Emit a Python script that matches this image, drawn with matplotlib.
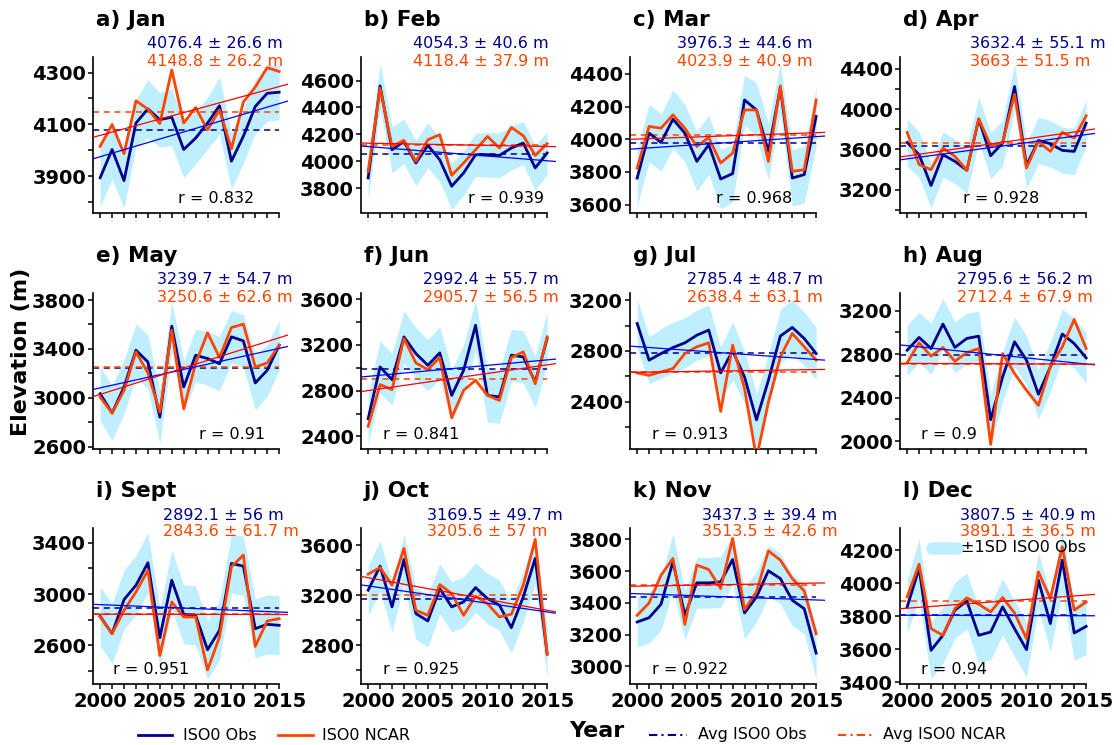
import matplotlib.pyplot as plt
import numpy as np
from matplotlib.lines import Line2D

plt.rcParams['font.family'] = 'DejaVu Sans'

years = [2000, 2001, 2002, 2003, 2004, 2005, 2006, 2007,
         2008, 2009, 2010, 2011, 2012, 2013, 2014, 2015]

# ISO0 elevation (m), observed / NCAR / 1SD of obs, one list per month
jan_obs = [3894, 4003, 3883, 4105, 4160, 4118, 4128, 4003, 4047, 4105, 4172, 3958, 4054, 4169, 4220, 4224]
jan_ncar = [4015, 4099, 3987, 4191, 4159, 4103, 4310, 4105, 4165, 4079, 4156, 4006, 4186, 4244, 4319, 4304]
jan_sd = [110, 115, 105, 92, 112, 105, 110, 108, 100, 100, 110, 109, 102, 104, 108, 106]

feb_obs = [3877, 4560, 4086, 4148, 3988, 4119, 4012, 3815, 3914, 4049, 4049, 4044, 4099, 4136, 3951, 4062]
feb_ncar = [3926, 4543, 4111, 4156, 4000, 4160, 4198, 3896, 3988, 4086, 4185, 4099, 4252, 4190, 4044, 4131]
feb_sd = [160, 168, 172, 165, 170, 165, 162, 172, 165, 160, 165, 168, 162, 160, 165, 160]

mar_obs = [3763, 4038, 3981, 4123, 4038, 3865, 3967, 3757, 3790, 4241, 4180, 3926, 4317, 3763, 3784, 4140]
mar_ncar = [3824, 4079, 4068, 4150, 4068, 3956, 4011, 3855, 3916, 4180, 4180, 3865, 4327, 3804, 3814, 4241]
mar_sd = [173, 178, 175, 179, 175, 183, 180, 183, 175, 153, 165, 175, 148, 172, 175, 179]

apr_obs = [3669, 3547, 3240, 3547, 3481, 3392, 3901, 3537, 3663, 4225, 3441, 3689, 3656, 3590, 3580, 3861]
apr_ncar = [3769, 3448, 3398, 3613, 3531, 3392, 3904, 3636, 3669, 4149, 3415, 3679, 3580, 3769, 3712, 3934]
apr_sd = [232, 228, 222, 225, 222, 230, 225, 230, 228, 231, 228, 230, 232, 228, 232, 231]

may_obs = [3033, 2874, 3088, 3389, 3293, 2841, 3586, 3088, 3348, 3321, 3279, 3499, 3466, 3121, 3225, 3430]
may_ncar = [3005, 2874, 3060, 3375, 3203, 2882, 3553, 2910, 3279, 3532, 3329, 3575, 3603, 3252, 3285, 3430]
may_sd = [219, 225, 220, 219, 219, 219, 200, 215, 215, 220, 224, 215, 215, 220, 215, 206]

jun_obs = [2555, 3007, 2896, 3270, 3124, 3022, 3130, 2759, 2978, 3372, 2759, 2745, 3110, 3095, 2876, 3255]
jun_ncar = [2488, 2853, 2809, 3255, 3042, 2984, 3089, 2564, 2803, 2891, 2759, 2715, 3089, 3139, 2861, 3270]
jun_sd = [219, 228, 225, 228, 225, 225, 228, 225, 225, 219, 233, 230, 228, 228, 225, 234]

jul_obs = [3016, 2728, 2780, 2827, 2864, 2924, 2964, 2628, 2801, 2596, 2260, 2570, 2917, 2985, 2898, 2780]
jul_ncar = [2628, 2609, 2636, 2662, 2780, 2833, 2864, 2326, 2846, 2504, 1960, 2399, 2754, 2938, 2833, 2728]
jul_sd = [197, 184, 195, 200, 197, 197, 200, 205, 228, 205, 205, 205, 210, 215, 210, 205]

aug_obs = [2837, 2954, 2852, 3077, 2862, 2945, 2966, 2197, 2591, 2914, 2745, 2431, 2683, 2985, 2898, 2766]
aug_ncar = [2720, 2905, 2782, 2862, 2735, 2815, 2852, 1969, 2806, 2622, 2468, 2329, 2683, 2868, 3120, 2852]
aug_sd = [231, 231, 235, 237, 235, 232, 230, 230, 230, 230, 225, 225, 230, 230, 230, 230]

sep_obs = [2827, 2692, 2957, 3069, 3244, 2660, 3108, 2843, 2835, 2567, 2718, 3239, 3218, 2731, 2765, 2757]
sep_ncar = [2822, 2692, 2874, 3017, 3186, 2522, 2939, 2822, 2822, 2410, 2666, 3213, 3304, 2593, 2791, 2809]
sep_sd = [229, 235, 232, 232, 234, 230, 230, 230, 230, 227, 230, 230, 232, 230, 230, 230]

oct_obs = [3240, 3432, 3107, 3485, 3053, 2995, 3253, 3107, 3147, 3261, 3173, 3120, 2941, 3187, 3493, 2733]
oct_ncar = [3368, 3421, 3280, 3573, 3080, 3040, 3285, 3213, 3040, 3192, 3133, 3027, 3048, 3280, 3645, 2728]
oct_sd = [200, 203, 200, 200, 205, 208, 200, 200, 200, 198, 200, 202, 202, 200, 200, 200]

nov_obs = [3279, 3306, 3391, 3659, 3321, 3526, 3526, 3532, 3673, 3336, 3437, 3602, 3553, 3416, 3363, 3083]
nov_ncar = [3321, 3399, 3574, 3680, 3264, 3638, 3610, 3490, 3806, 3357, 3469, 3728, 3669, 3553, 3475, 3205]
nov_sd = [158, 160, 165, 179, 154, 160, 160, 160, 154, 163, 160, 160, 160, 160, 160, 163]

dec_obs = [3856, 4089, 3593, 3684, 3836, 3892, 3684, 3704, 3856, 3724, 3597, 4018, 3755, 4139, 3698, 3738]
dec_ncar = [3917, 4115, 3724, 3684, 3846, 3911, 3872, 3826, 3913, 3819, 3664, 4068, 3906, 4220, 3836, 3886]
dec_sd = [162, 182, 172, 170, 170, 170, 168, 168, 170, 168, 166, 170, 170, 190, 166, 170]

titles = ['a) Jan', 'b) Feb', 'c) Mar', 'd) Apr', 'e) May', 'f) Jun',
          'g) Jul', 'h) Aug', 'i) Sept', 'j) Oct', 'k) Nov', 'l) Dec']
obs_mean = [4076.4, 4054.3, 3976.3, 3632.4, 3239.7, 2992.4, 2785.4, 2795.6, 2892.1, 3169.5, 3437.3, 3807.5]
obs_err = [26.6, 40.6, 44.6, 55.1, 54.7, 55.7, 48.7, 56.2, 56, 49.7, 39.4, 40.9]
ncar_mean = [4148.8, 4118.4, 4023.9, 3663, 3250.6, 2905.7, 2638.4, 2712.4, 2843.6, 3205.6, 3513.5, 3891.1]
ncar_err = [26.2, 37.9, 40.9, 51.5, 62.6, 56.5, 63.1, 67.9, 61.7, 57, 42.6, 36.5]
r_vals = [0.832, 0.939, 0.968, 0.928, 0.91, 0.841, 0.913, 0.9, 0.951, 0.925, 0.922, 0.94]

obs_all = [jan_obs, feb_obs, mar_obs, apr_obs, may_obs, jun_obs,
           jul_obs, aug_obs, sep_obs, oct_obs, nov_obs, dec_obs]
ncar_all = [jan_ncar, feb_ncar, mar_ncar, apr_ncar, may_ncar, jun_ncar,
            jul_ncar, aug_ncar, sep_ncar, oct_ncar, nov_ncar, dec_ncar]
sd_all = [jan_sd, feb_sd, mar_sd, apr_sd, may_sd, jun_sd,
          jul_sd, aug_sd, sep_sd, oct_sd, nov_sd, dec_sd]

# layout
ylims = [(3760, 4360), (3620, 4775), (3552, 4504), (2972, 4519),
         (2584, 3858), (2295, 3653), (2035, 3255), (1932, 3363),
         (2304, 3515), (2496, 3736), (2891, 3872), (3392, 4334)]
ytick0 = [3900, 3800, 3600, 3200, 2600, 2400, 2400, 2000, 2600, 2800, 3000, 3400]
ystep = [200, 200, 200, 400, 400, 400, 400, 400, 400, 400, 200, 200]
yminor = [True, False, False, True, True, True, True, True, True, True, False, False]
stat_off = [54, 52, 47, 70, 64, 62, 57, 57, 70, 66, 72, 60]
r_off = [85, 107, 86, 63, 106, 22, 22, 21, 20, 22, 22, 21]

c_obs = '#00008B'
c_ncar = '#FF4500'
c_band = '#BFEFFF'

W, H = 1114, 745
fig = plt.figure(figsize=(W / 100, H / 100), dpi=100)
col_x = [93, 361, 630, 900]
row_top = [57, 293, 528]
ax_w, ax_h = 194.5, 155.5
x_lo, x_hi = 1999.4, 2015.7
yrs = np.array(years)

for i in range(12):
    r, c = divmod(i, 4)
    ax = fig.add_axes([col_x[c] / W, 1 - (row_top[r] + ax_h) / H, ax_w / W, ax_h / H])
    obs = np.array(obs_all[i], dtype=float)
    ncar = np.array(ncar_all[i], dtype=float)
    sd = np.array(sd_all[i], dtype=float)

    ax.fill_between(yrs, obs - sd, obs + sd, color=c_band, lw=0, zorder=1)
    ax.plot([x_lo, 2015], [obs_mean[i]] * 2, ls=(0, (4, 3)), color=c_obs, lw=1.1, zorder=2)
    ax.plot([x_lo, 2015], [ncar_mean[i]] * 2, ls=(0, (4, 3)), color=c_ncar, lw=1.1, zorder=2)
    ax.plot(yrs, obs, color=c_obs, lw=2.0, zorder=4)
    ax.plot(yrs, ncar, color=c_ncar, lw=2.0, zorder=5)
    xs = np.array([x_lo, x_hi])
    p1 = np.polyfit(yrs, obs, 1)
    p2 = np.polyfit(yrs, ncar, 1)
    ax.plot(xs, np.polyval(p1, xs), color='#0000FF', lw=0.9, zorder=6)
    ax.plot(xs, np.polyval(p2, xs), color='#FF0000', lw=0.9, zorder=6)

    ax.set_xlim(x_lo, x_hi)
    ax.set_ylim(*ylims[i])
    for s in ['top', 'right']:
        ax.spines[s].set_visible(False)
    for s in ['left', 'bottom']:
        ax.spines[s].set_linewidth(1.2)
    ax.spines['bottom'].set_bounds(x_lo, 2015)

    ax.set_xticks([2000, 2005, 2010, 2015])
    ax.set_xticks(years, minor=True)
    if r == 2:
        ax.set_xticklabels(['2000', '2005', '2010', '2015'], fontweight='bold', fontsize=14)
    else:
        ax.set_xticklabels([])
    lo, hi = ylims[i]
    maj = np.arange(ytick0[i], hi, ystep[i])
    ax.set_yticks(maj)
    ax.set_yticklabels([str(int(v)) for v in maj], fontweight='bold', fontsize=14)
    if yminor[i]:
        mn = np.arange(ytick0[i] - ystep[i] / 2, hi, ystep[i])
        ax.set_yticks(mn[mn >= lo], minor=True)
    else:
        ax.set_yticks([], minor=True)
    ax.tick_params(which='both', direction='out', length=3.8, width=1.1, pad=1.2)
    ax.tick_params(axis='x', which='both', pad=2.5)

    ax.text(3 / ax_w, 1 + 37 / ax_h, titles[i], transform=ax.transAxes,
            fontsize=15.5, fontweight='bold', ha='left', va='center')
    ax.text(stat_off[i] / ax_w, 1 + 13 / ax_h, f'{obs_mean[i]:g} \u00b1 {obs_err[i]:g} m',
            transform=ax.transAxes, fontsize=11.5, color=c_obs, ha='left', va='center')
    ax.text(stat_off[i] / ax_w, 1 - 4 / ax_h, f'{ncar_mean[i]:g} \u00b1 {ncar_err[i]:g} m',
            transform=ax.transAxes, fontsize=11.5, color=c_ncar, ha='left', va='center')
    ax.text(r_off[i] / ax_w, 14 / ax_h, f'r = {r_vals[i]:g}', transform=ax.transAxes,
            fontsize=11.5, ha='left', va='center')

# ±1SD legend inside Dec panel
fig.add_artist(Line2D([932 / W, 957 / W], [1 - 548 / H] * 2, transform=fig.transFigure,
                      color=c_band, lw=9, solid_capstyle='round'))
fig.text(961 / W, 1 - 548 / H, '\u00b11SD ISO0 Obs', fontsize=11.5, va='center', ha='left')

fig.text(21 / W, 1 - 352 / H, 'Elevation (m)', rotation=90, fontsize=16,
         fontweight='bold', ha='center', va='center')
fig.text(597 / W, 1 - 731 / H, 'Year', fontsize=16, fontweight='bold', ha='center', va='center')

# bottom legend
ly = 1 - 735 / H
legend_items = [(138, 172, c_obs, '-', 'ISO0 Obs', 183),
                (278, 313, c_ncar, '-', 'ISO0 NCAR', 322),
                (649, 687, c_obs, (0, (4, 2, 1, 2)), 'Avg ISO0 Obs', 698),
                (838, 873, c_ncar, (0, (4, 2, 1, 2)), 'Avg ISO0 NCAR', 883)]
for x0, x1, col, ls, lab, tx in legend_items:
    fig.add_artist(Line2D([x0 / W, x1 / W], [ly, ly], transform=fig.transFigure,
                          color=col, lw=2.0 if ls == '-' else 1.5, ls=ls))
    fig.text(tx / W, ly, lab, fontsize=11.5, va='center', ha='left')

plt.savefig('out.png', dpi=100)
